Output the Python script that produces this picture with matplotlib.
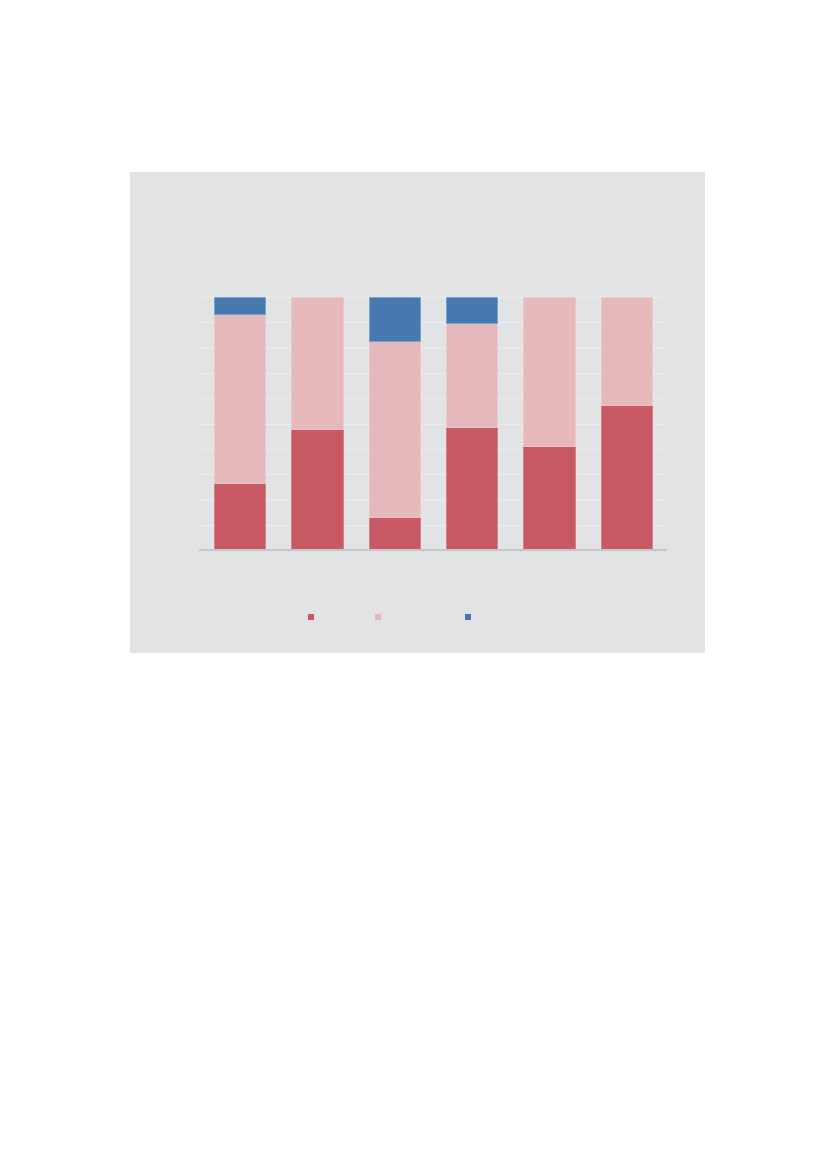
import matplotlib
matplotlib.use("Agg")
import matplotlib.pyplot as plt
from matplotlib.patches import Rectangle
import numpy as np

categories = ["A", "B", "C", "D", "E", "F"]
series_red = [26.6, 47.8, 13.2, 48.7, 41.0, 57.4]
series_pink = [66.6, 52.2, 69.3, 40.9, 59.0, 42.6]
series_blue = [6.8, 0.0, 17.5, 10.4, 0.0, 0.0]

RED = "#c85864"
PINK = "#e5b8bb"
BLUE = "#4679b0"
BG = "#e1e3e5"

W, H = 827, 1169
fig = plt.figure(figsize=(W / 100, H / 100), dpi=100)
fig.patch.set_facecolor("white")

# grey panel
fig.add_artist(Rectangle((130 / W, 1 - 653 / H), (705 - 130) / W, (653 - 172) / H,
                         transform=fig.transFigure, facecolor=BG, edgecolor="none", zorder=0))

ax = fig.add_axes([200 / W, 1 - 550 / H, (666 - 200) / W, (550 - 297) / H])
ax.set_facecolor("none")
x = np.arange(len(categories))
red = np.array(series_red)
pink = np.array(series_pink)
blue = np.array(series_blue)
bw = 0.665
ax.bar(x, red, width=bw, color=RED, edgecolor="#d27d86", linewidth=0.6, zorder=3)
ax.bar(x, pink, bottom=red, width=bw, color=PINK, edgecolor="#ecc9cb", linewidth=0.6, zorder=3)
ax.bar(x, blue, bottom=red + pink, width=bw, color=BLUE, edgecolor="#7da0c8",
       linewidth=0.6 * (blue > 0), zorder=3)

ax.set_xlim(-0.51, 5.51)
ax.set_ylim(0, 100)
ax.set_yticks(np.arange(0, 101, 10))
ax.yaxis.grid(True, color="#f0f1f2", linewidth=0.9, alpha=0.7, zorder=1)
ax.tick_params(left=False, bottom=False, labelleft=False, labelbottom=False)
for s in ["top", "right", "left"]:
    ax.spines[s].set_visible(False)
ax.spines["bottom"].set_color("#c6c7c9")
ax.spines["bottom"].set_linewidth(1.5)
ax.spines["bottom"].set_zorder(4)

# legend markers
sq = 6
for cx, col in [(311, RED), (378, PINK), (468, BLUE)]:
    fig.add_artist(Rectangle(((cx - sq / 2) / W, 1 - (617 + sq / 2) / H), sq / W, sq / H,
                             transform=fig.transFigure, facecolor=col, edgecolor="none", zorder=2))

fig.savefig("out.png", dpi=100, facecolor="white")
